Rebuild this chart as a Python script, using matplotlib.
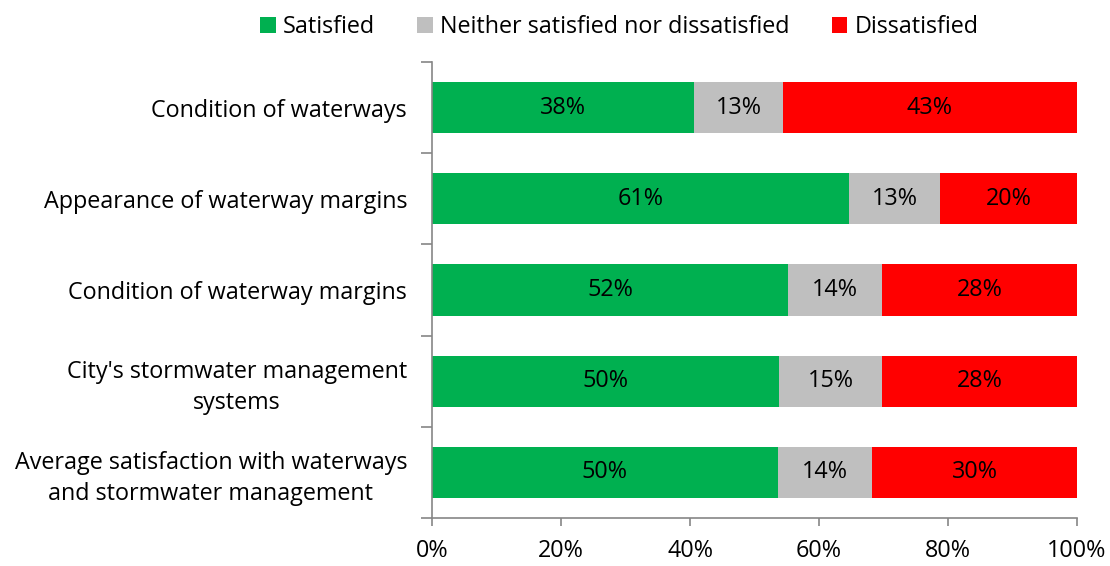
import matplotlib
matplotlib.use("Agg")
import matplotlib.pyplot as plt
import numpy as np

categories = [
    "Condition of waterways",
    "Appearance of waterway margins",
    "Condition of waterway margins",
    "City's stormwater management\nsystems",
    "Average satisfaction with waterways\nand stormwater management",
]
satisfied = [38.2, 60.8, 51.9, 50.0, 50.4]
neither = [12.9, 13.3, 13.7, 14.9, 13.7]
dissatisfied = [42.9, 19.9, 28.4, 28.1, 29.9]
series_names = ["Satisfied", "Neither satisfied nor dissatisfied", "Dissatisfied"]
colors = ["#00B050", "#BFBFBF", "#FF0000"]
xticks = [0, 20, 40, 60, 80, 100]

plt.rcParams['font.family'] = ['Open Sans', 'DejaVu Sans']
FS = 16.8

fig = plt.figure(figsize=(11.1, 5.66), dpi=100)
ax = fig.add_axes([0.3892, 0.0848, 0.9703 - 0.3892, 0.8905 - 0.0848])

data = np.array([satisfied, neither, dissatisfied])
totals = data.sum(axis=0)
shares = data / totals * 100
y = np.arange(len(categories))
left = np.zeros(len(categories))
for i, name in enumerate(series_names):
    ax.barh(y, shares[i], left=left, height=0.56, color=colors[i], label=name)
    for j in range(len(categories)):
        ax.text(left[j] + shares[i][j] / 2, y[j], f"{data[i][j]:.0f}%",
                ha='center', va='center', fontsize=FS, color='black')
    left = left + shares[i]

ax.set_xlim(0, 100)
ax.set_ylim(len(categories) - 0.5, -0.5)
ax.set_yticks(y)
ax.set_yticklabels(categories, fontsize=FS, ha='right', multialignment='center',
                   linespacing=1.38)
ax.set_yticks(np.arange(-0.5, len(categories), 1), minor=True)
ax.tick_params(axis='y', which='major', length=0, pad=18)
ax.tick_params(axis='y', which='minor', length=8, color='#868686', width=1.2)
ax.set_xticks(xticks)
ax.set_xticklabels([f"{t}%" for t in xticks], fontsize=FS)
ax.tick_params(axis='x', length=6, color='#868686', width=1.2, pad=9)
for s in ['top', 'right']:
    ax.spines[s].set_visible(False)
for s in ['left', 'bottom']:
    ax.spines[s].set_color('#868686')
    ax.spines[s].set_linewidth(1.2)

fig.legend(loc='upper center', bbox_to_anchor=(0.558, 1.01), ncol=3, frameon=False,
           fontsize=FS, handlelength=0.68, handleheight=0.68, handletextpad=0.3,
           columnspacing=1.8)

fig.savefig("out.png", dpi=100)
